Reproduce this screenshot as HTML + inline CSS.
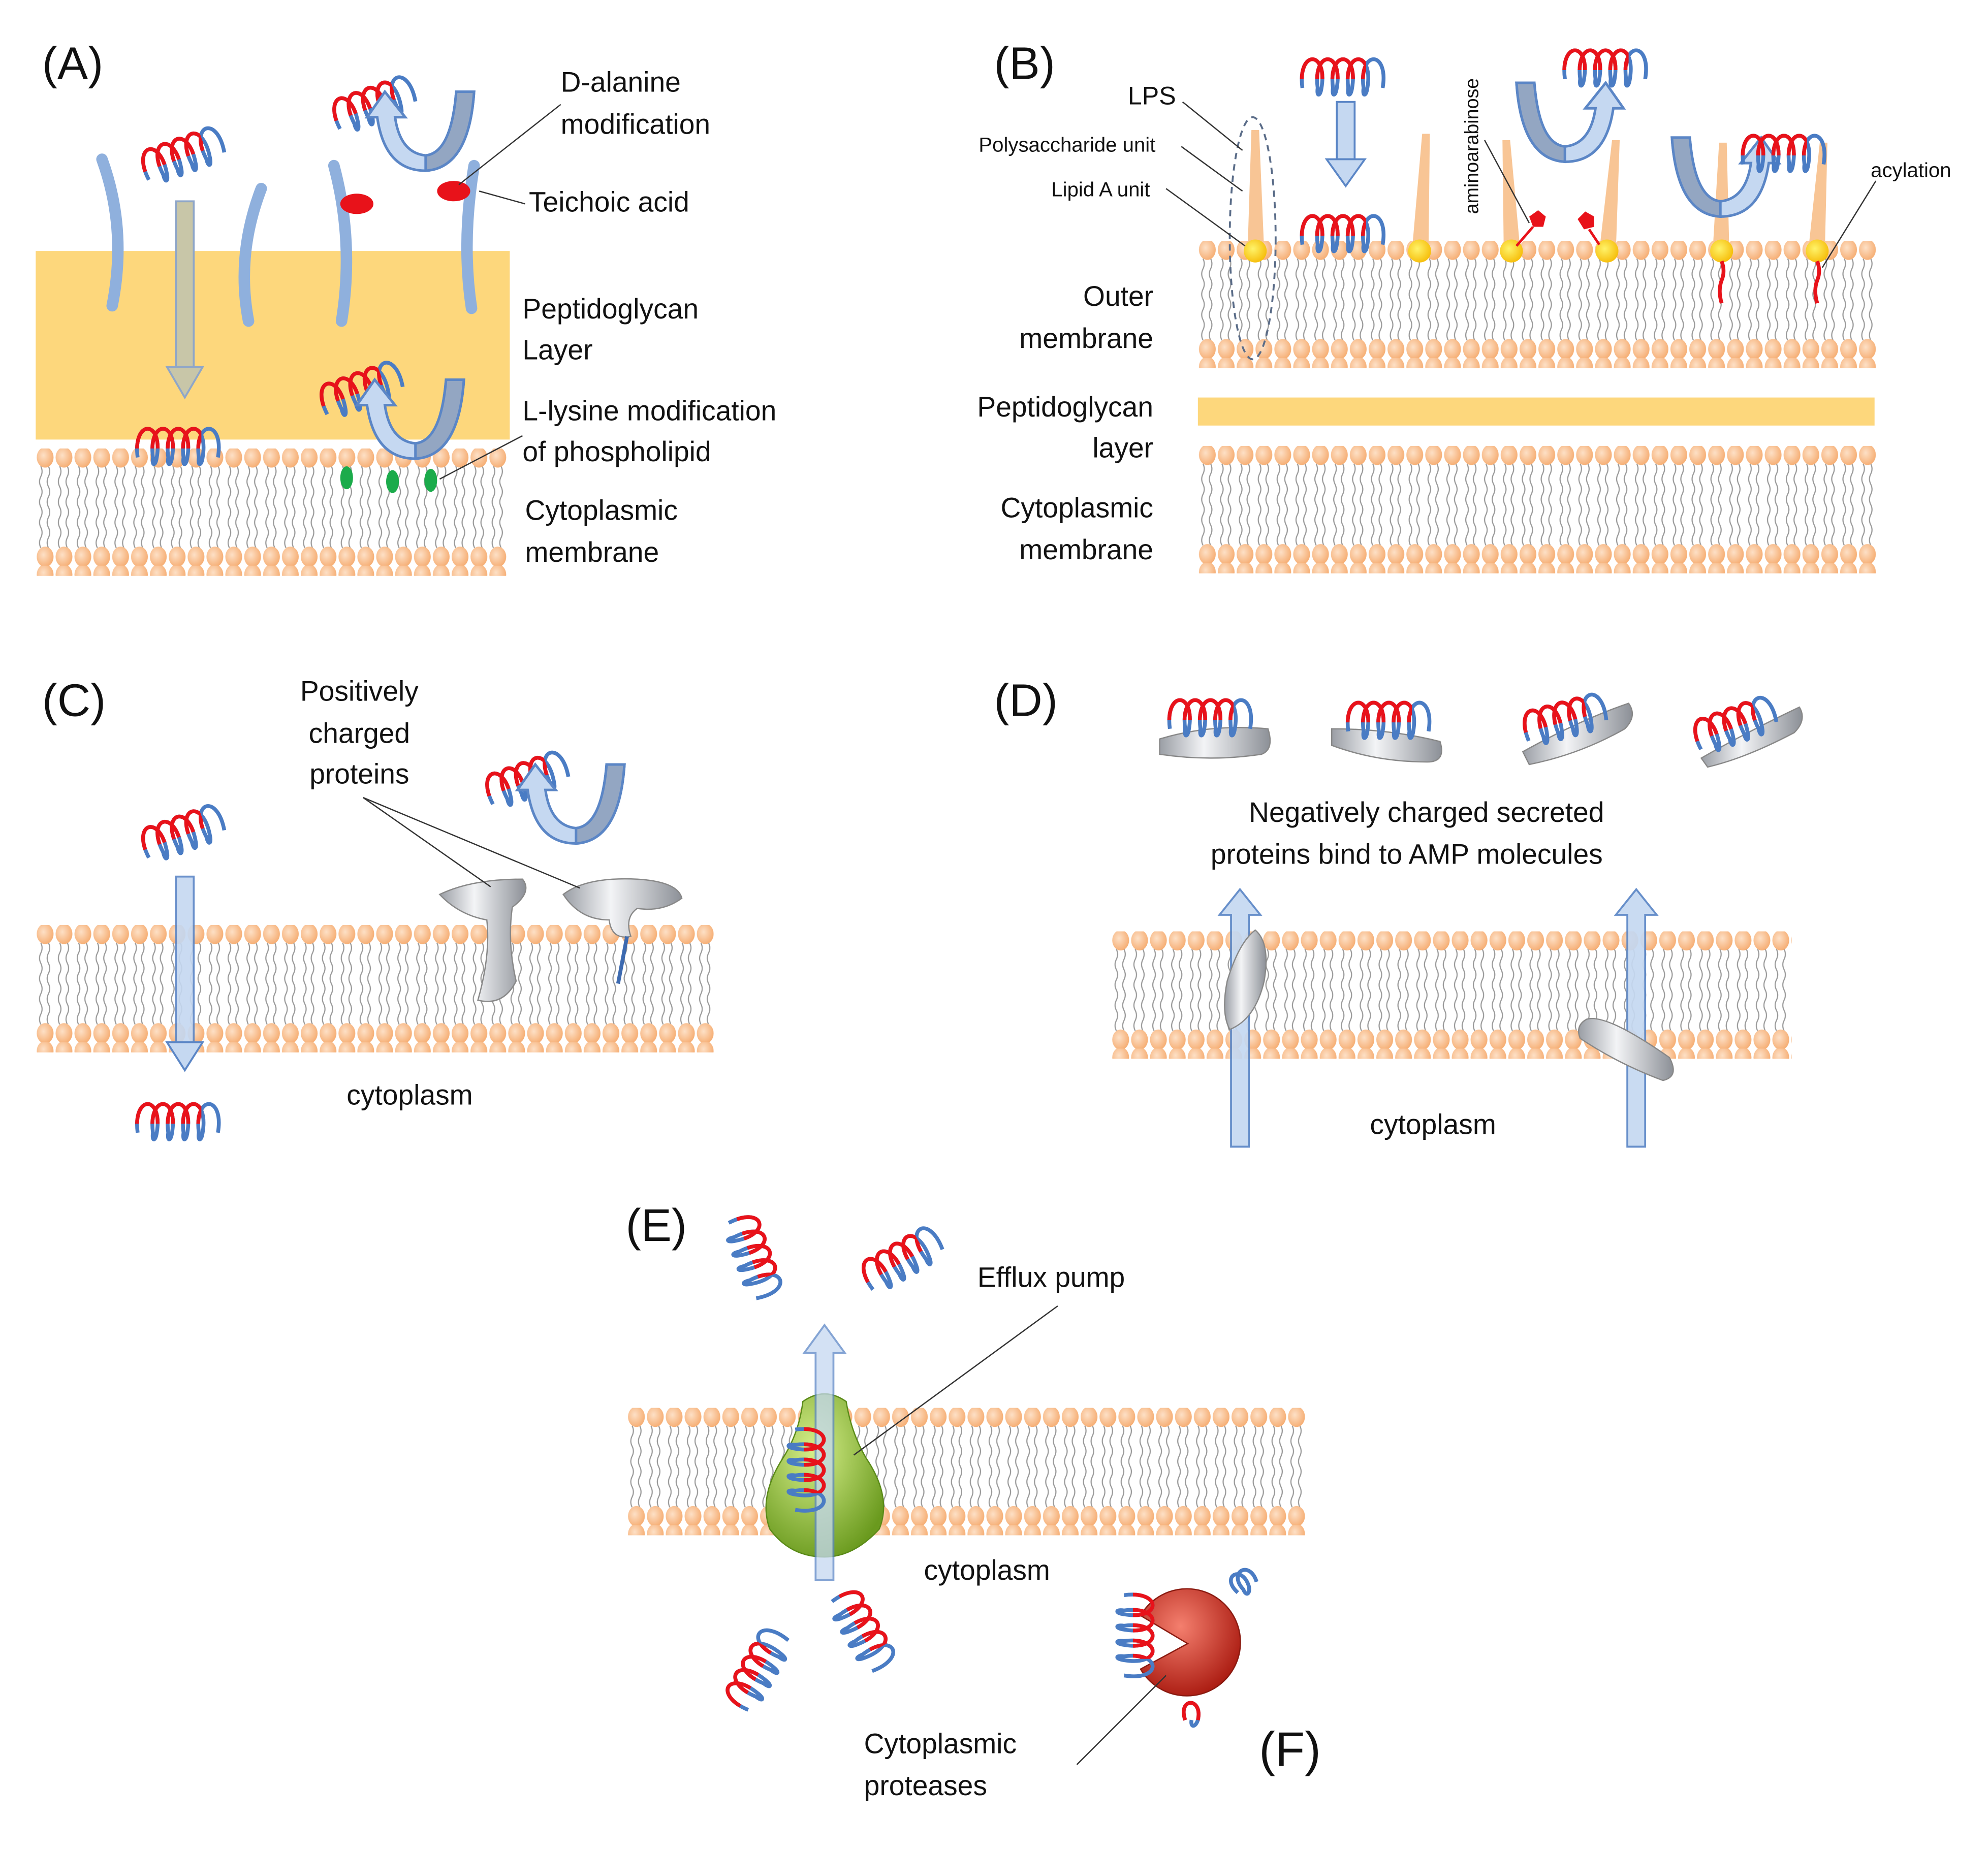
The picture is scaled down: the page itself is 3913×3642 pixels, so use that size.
<!DOCTYPE html>
<html><head><meta charset="utf-8"><style>
html,body{margin:0;padding:0;background:#fff;}
svg{display:block;}
text{font-family:"Liberation Sans",sans-serif;fill:#111;}
</style></head><body>
<svg width="3913" height="3642" viewBox="0 0 1560 1452" xmlns="http://www.w3.org/2000/svg">
<defs>
<radialGradient id="hg" cx="0.4" cy="0.4" r="0.7"><stop offset="0" stop-color="#fde0c6"/><stop offset="1" stop-color="#f5a86a"/></radialGradient>
<radialGradient id="yg" cx="0.4" cy="0.4" r="0.7"><stop offset="0" stop-color="#fff36a"/><stop offset="1" stop-color="#f5b800"/></radialGradient>
<pattern id="mem" width="14.8" height="92" patternUnits="userSpaceOnUse">
<path d="M4,14 q2,4 0,8 q-2,4 0,8 q2,4 0,8 q-2,4 0,8 M10,14 q2,4 0,8 q-2,4 0,8 q2,4 0,8 q-2,4 0,8 M4,46 q2,4 0,8 q-2,4 0,8 q2,4 0,8 q-2,4 0,8 M10,46 q2,4 0,8 q-2,4 0,8 q2,4 0,8 q-2,4 0,8" fill="none" stroke="#999" stroke-width="0.9"/>
<ellipse cx="7.4" cy="7" rx="6.6" ry="8" fill="url(#hg)"/>
<ellipse cx="7.4" cy="85" rx="6.6" ry="8" fill="url(#hg)"/>
</pattern>
<clipPath id="topc"><rect x="-8" y="-14" width="58" height="21"/></clipPath>
<g id="hx">
<path id="hxp" d="M0,14 c-4,-30 20,-30 15,0 c-1,7 -4,7 -3,0 c-4,-30 20,-30 15,0 c-1,7 -4,7 -3,0 c-4,-30 20,-30 15,0 c-1,7 -4,7 -3,0 c-4,-30 20,-30 15,0 c-1,7 -4,7 -3,0 c-4,-30 20,-30 15,0" fill="none" stroke="#4a7cc4" stroke-width="3"/>
<path clip-path="url(#topc)" d="M0,14 c-4,-30 20,-30 15,0 c-1,7 -4,7 -3,0 c-4,-30 20,-30 15,0 c-1,7 -4,7 -3,0 c-4,-30 20,-30 15,0 c-1,7 -4,7 -3,0 c-4,-30 20,-30 15,0 c-1,7 -4,7 -3,0 c-4,-30 20,-30 15,0" fill="none" stroke="#e8121a" stroke-width="3"/>
</g>
<g id="carr">
<path d="M0,0 L14,0 Q18,48 38,50 Q58,48 62,20 L54,20 L70,0 L84,20 L76,20 Q70,62 38,62 Q4,60 0,0 Z" fill="#c5d8f1" stroke="#5b86c6" stroke-width="2"/>
<path d="M0,0 L14,0 Q18,48 38,50 L38,62 Q4,60 0,0 Z" fill="#93a6c2" stroke="#5b86c6" stroke-width="2"/>
</g>
<linearGradient id="gg" x1="0" x2="1"><stop offset="0" stop-color="#9a9ea5"/><stop offset="0.4" stop-color="#f3f4f6"/><stop offset="1" stop-color="#8c9097"/></linearGradient>
<radialGradient id="grn" cx="0.4" cy="0.35" r="0.7"><stop offset="0" stop-color="#d6ef8a"/><stop offset="1" stop-color="#6a9a1e"/></radialGradient>
<radialGradient id="red" cx="0.4" cy="0.35" r="0.7"><stop offset="0" stop-color="#f47f6e"/><stop offset="1" stop-color="#a8180e"/></radialGradient>
</defs>

<!-- Panel A -->
<text x="33" y="62" font-size="36">(A)</text>
<rect x="28" y="197" width="372" height="148" fill="#fdd77c"/>
<g transform="translate(28,352)"><rect width="370" height="100" fill="url(#mem)"/></g>
<g fill="none" stroke="#8fb0dd" stroke-width="9" stroke-linecap="round">
<path d="M80,125 Q100,180 88,240"/><path d="M205,148 Q185,200 195,252"/>
<path d="M262,130 Q278,190 268,252"/><path d="M372,130 Q362,190 370,242"/>
</g>
<ellipse cx="280" cy="160" rx="13" ry="8" fill="#e8121a"/><ellipse cx="356" cy="150" rx="13" ry="8" fill="#e8121a"/>
<rect x="138" y="158" width="14" height="130" fill="#c8c6a8" stroke="#8fa6c8" stroke-width="1.5"/>
<path d="M131,288 L159,288 L145,312 Z" fill="#c8c6a8" stroke="#8fa6c8" stroke-width="1.5"/>
<use href="#hx" transform="translate(112,128) rotate(-20)"/>
<use href="#hx" transform="translate(262,88) rotate(-20)"/>
<use href="#hx" transform="translate(108,345)"/>
<use href="#hx" transform="translate(252,312) rotate(-20)"/>
<use href="#carr" transform="translate(372,72) scale(-1,1)"/>
<use href="#carr" transform="translate(364,298) scale(-1,1)"/>
<ellipse cx="272" cy="375" rx="5" ry="9" fill="#1bab4b"/><ellipse cx="308" cy="378" rx="5" ry="9" fill="#1bab4b"/><ellipse cx="338" cy="377" rx="5" ry="9" fill="#1bab4b"/>
<g stroke="#333" stroke-width="1"><line x1="440" y1="82" x2="360" y2="145"/><line x1="412" y1="160" x2="376" y2="150"/><line x1="410" y1="342" x2="345" y2="376"/></g>
<g font-size="22">
<text x="440" y="72">D-alanine</text><text x="440" y="105">modification</text>
<text x="415" y="166">Teichoic acid</text>
<text x="410" y="250">Peptidoglycan</text><text x="410" y="282">Layer</text>
<text x="410" y="330">L-lysine modification</text><text x="410" y="362">of phospholipid</text>
<text x="412" y="408">Cytoplasmic</text><text x="412" y="441">membrane</text>
</g>

<!-- Panel B -->
<text x="780" y="62" font-size="36">(B)</text>
<g transform="translate(940,189)"><rect width="532" height="100" fill="url(#mem)"/></g>
<rect x="940" y="312" width="531" height="22" fill="#fdd77c"/>
<g transform="translate(940,350)"><rect width="532" height="100" fill="url(#mem)"/></g>
<g fill="#f8c595">
<path d="M979,197 L982,102 L988,102 L992,197Z"/><path d="M1108,197 L1116,105 L1122,105 L1121,197Z"/>
<path d="M1180,197 L1179,110 L1185,110 L1193,197Z"/><path d="M1255,197 L1265,110 L1271,110 L1268,197Z"/>
<path d="M1344,197 L1349,112 L1355,112 L1357,197Z"/><path d="M1419,197 L1428,112 L1434,112 L1432,197Z"/>
</g>
<g fill="url(#yg)"><circle cx="985" cy="197" r="9"/><circle cx="1114" cy="197" r="9"/><circle cx="1186" cy="197" r="9"/><circle cx="1261" cy="197" r="9"/><circle cx="1351" cy="197" r="9"/><circle cx="1426" cy="197" r="9"/></g>
<g fill="none" stroke="#e8121a" stroke-width="3"><path d="M1351,205 q3,8 0,15 q-3,8 0,18"/><path d="M1426,205 q3,8 0,15 q-3,8 0,18"/></g>
<ellipse cx="983" cy="187" rx="18" ry="95" fill="none" stroke="#5a6c88" stroke-width="1.5" stroke-dasharray="5,4"/>
<path d="M1200,170 l7,-5 l6,5 l-2,8 l-8,0Z" fill="#e8121a"/><line x1="1203" y1="178" x2="1190" y2="193" stroke="#e8121a" stroke-width="2"/>
<path d="M1238,172 l6,-6 l7,4 l0,8 l-8,2Z" fill="#e8121a"/><line x1="1247" y1="180" x2="1255" y2="192" stroke="#e8121a" stroke-width="2"/>
<rect x="1049" y="80" width="14" height="45" fill="#c5d8f1" stroke="#5b86c6" stroke-width="1.5"/>
<path d="M1041,125 L1071,125 L1056,146Z" fill="#c5d8f1" stroke="#5b86c6" stroke-width="1.5"/>
<use href="#hx" transform="translate(1022,55)"/>
<use href="#hx" transform="translate(1022,178)"/>
<use href="#carr" transform="translate(1190,65)"/>
<use href="#carr" transform="translate(1312,108)"/>
<use href="#hx" transform="translate(1228,48)"/>
<use href="#hx" transform="translate(1368,115)"/>
<g stroke="#333" stroke-width="1"><line x1="928" y1="80" x2="975" y2="118"/><line x1="927" y1="115" x2="975" y2="150"/><line x1="915" y1="148" x2="977" y2="193"/><line x1="1165" y1="110" x2="1200" y2="175"/><line x1="1472" y1="142" x2="1430" y2="210"/></g>
<text x="885" y="82" font-size="20">LPS</text>
<text x="768" y="119" font-size="16">Polysaccharide unit</text>
<text x="825" y="154" font-size="16">Lipid A unit</text>
<text x="1160" y="168" font-size="15" transform="rotate(-90 1160 168)">aminoarabinose</text>
<text x="1468" y="139" font-size="16">acylation</text>
<g font-size="22" text-anchor="end">
<text x="905" y="240">Outer</text><text x="905" y="273">membrane</text>
<text x="905" y="327">Peptidoglycan</text><text x="905" y="359">layer</text>
<text x="905" y="406">Cytoplasmic</text><text x="905" y="439">membrane</text>
</g>

<!-- Panel C -->
<text x="33" y="562" font-size="36">(C)</text>
<g transform="translate(28,726)"><rect width="532" height="100" fill="url(#mem)"/></g>
<rect x="138" y="688" width="14" height="132" fill="#c5d8f1" stroke="#5b86c6" stroke-width="1.5" opacity="0.9"/>
<path d="M131,818 L159,818 L145,840Z" fill="#c5d8f1" stroke="#5b86c6" stroke-width="1.5"/>
<use href="#hx" transform="translate(112,660) rotate(-20)"/>
<use href="#hx" transform="translate(108,875)"/>
<use href="#hx" transform="translate(382,618) rotate(-20)"/>
<use href="#carr" transform="translate(490,600) scale(-1,1)"/>
<path d="M345,702 Q370,690 410,690 Q418,700 402,712 Q398,740 405,770 Q395,790 375,785 Q385,750 382,722 Q360,718 345,702Z" fill="url(#gg)" stroke="#888" stroke-width="1"/>
<path d="M442,702 Q460,688 500,690 Q532,692 535,705 Q520,716 500,713 Q490,720 495,735 Q480,738 478,722 Q455,722 442,702Z" fill="url(#gg)" stroke="#888" stroke-width="1"/>
<line x1="492" y1="735" x2="485" y2="772" stroke="#3d6ab0" stroke-width="3"/>
<g stroke="#333" stroke-width="1"><line x1="285" y1="626" x2="385" y2="696"/><line x1="285" y1="626" x2="455" y2="697"/></g>
<g font-size="22" text-anchor="middle"><text x="282" y="550">Positively</text><text x="282" y="583">charged</text><text x="282" y="615">proteins</text></g>
<text x="272" y="867" font-size="22">cytoplasm</text>

<!-- Panel D -->
<text x="780" y="562" font-size="36">(D)</text>
<g transform="translate(872,731)"><rect width="534" height="100" fill="url(#mem)"/></g>
<g fill="#c5d8f1" stroke="#5b86c6" stroke-width="1.5" opacity="0.92">
<path d="M966,900 L966,718 L957,718 L973,698 L989,718 L980,718 L980,900Z"/>
<path d="M1277,900 L1277,718 L1268,718 L1284,698 L1300,718 L1291,718 L1291,900Z"/>
</g>
<path d="M985,730 Q997,740 992,770 Q985,800 965,808 Q958,795 963,770 Q972,740 985,730Z" fill="url(#gg)" stroke="#888"/>
<path d="M1245,800 Q1260,795 1310,830 Q1318,845 1305,848 Q1270,835 1240,815 Q1236,805 1245,800Z" fill="url(#gg)" stroke="#888"/>
<path d="M910,580 Q950,568 995,572 Q1000,588 990,592 Q950,598 910,592Z" fill="url(#gg)" stroke="#888"/>
<path d="M1045,572 Q1090,572 1130,582 Q1135,598 1120,598 Q1080,598 1045,585Z" fill="url(#gg)" stroke="#888"/>
<path d="M1195,590 Q1240,565 1278,552 Q1285,562 1275,572 Q1240,592 1200,600Z" fill="url(#gg)" stroke="#888"/>
<path d="M1335,595 Q1370,575 1412,555 Q1418,565 1408,575 Q1370,595 1340,602Z" fill="url(#gg)" stroke="#888"/>
<use href="#hx" transform="translate(918,558)"/>
<use href="#hx" transform="translate(1058,560)"/>
<use href="#hx" transform="translate(1196,568) rotate(-15)"/>
<use href="#hx" transform="translate(1330,575) rotate(-20)"/>
<g font-size="22"><text x="980" y="645">Negatively charged secreted</text><text x="950" y="678">proteins  bind to AMP molecules</text>
<text x="1075" y="890">cytoplasm</text></g>

<!-- Panel E -->
<text x="491" y="974" font-size="36">(E)</text>
<g transform="translate(492,1105)"><rect width="532" height="100" fill="url(#mem)"/></g>
<path d="M630,1100 Q647,1088 664,1100 Q668,1125 680,1145 Q700,1175 690,1200 Q670,1222 647,1222 Q620,1222 604,1200 Q595,1175 614,1145 Q627,1125 630,1100Z" fill="url(#grn)" stroke="#5a8a18"/>
<path d="M640,1240 L640,1062 L631,1062 L647,1040 L663,1062 L654,1062 L654,1240Z" fill="#c5d8f1" stroke="#5b86c6" stroke-width="1.5" opacity="0.75"/>
<use href="#hx" transform="translate(638,1122) rotate(90)"/>
<use href="#hx" transform="translate(585,955) rotate(70)"/>
<use href="#hx" transform="translate(678,1000) rotate(-30)"/>
<use href="#hx" transform="translate(575,1335) rotate(-60)"/>
<use href="#hx" transform="translate(665,1250) rotate(60)"/>
<line x1="830" y1="1025" x2="670" y2="1142" stroke="#333" stroke-width="1"/>
<text x="767" y="1010" font-size="22">Efflux pump</text>
<text x="725" y="1240" font-size="22">cytoplasm</text>
<path d="M932,1290 L895,1268 A42,42 0 1,1 895,1310 Z" fill="url(#red)" stroke="#8a1a10"/>
<use href="#hx" transform="translate(896,1252) rotate(90)"/>
<path d="M970,1245 c-6,-18 14,-18 10,0 c-2,6 -6,6 -5,0 c-4,-18 16,-18 12,0" fill="none" stroke="#4a7cc4" stroke-width="3" transform="rotate(-30 980 1245)"/>
<path d="M930,1350 c-6,-18 14,-18 10,0 c-2,6 -6,6 -5,0" fill="none" stroke="#4a7cc4" stroke-width="3"/>
<path d="M930,1350 c-6,-18 14,-18 10,0" fill="none" stroke="#e8121a" stroke-width="3"/>
<line x1="845" y1="1385" x2="915" y2="1315" stroke="#333" stroke-width="1"/>
<text x="988" y="1386" font-size="38">(F)</text>
<g font-size="22"><text x="678" y="1376">Cytoplasmic</text><text x="678" y="1409">proteases</text></g>
</svg>
</body></html>
